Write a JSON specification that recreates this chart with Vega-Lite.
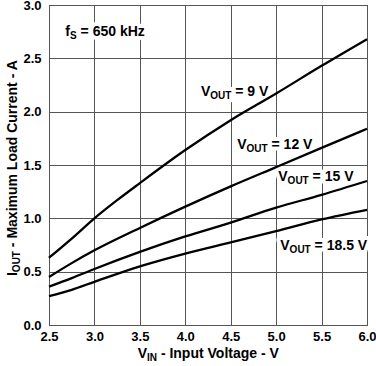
{
  "$schema": "https://vega.github.io/schema/vega-lite/v6.json",
  "width": 318,
  "height": 320,
  "autosize": {"type": "none"},
  "padding": {"left": 49, "top": 5, "right": 9, "bottom": 41},
  "background": "white",
  "config": {
    "view": {"stroke": "#000", "strokeWidth": 1},
    "font": "Liberation Sans",
    "axis": {
      "grid": true, "gridColor": "#555", "gridWidth": 1, "gridOpacity": 1,
      "domain": false, "ticks": false,
      "labelFont": "Liberation Sans", "labelFontSize": 13, "labelFontWeight": "bold", "labelColor": "#000",
      "labelOverlap": false, "labelBound": false, "labelFlush": false,
      "title": null
    },
    "axisX": {"values": [2.5, 3, 3.5, 4, 4.5, 5, 5.5, 6], "format": ".1f", "labelPadding": 5},
    "axisY": {"values": [0, 0.5, 1, 1.5, 2, 2.5, 3], "format": ".1f", "labelPadding": 8},
    "text": {"font": "Liberation Sans", "fontWeight": "bold", "color": "#000"}
  },
  "datasets": {
    "curves": [
      {"series": "9 V", "vin": 2.5, "iout": 0.63},
      {"series": "9 V", "vin": 2.75, "iout": 0.81},
      {"series": "9 V", "vin": 3.0, "iout": 1.0},
      {"series": "9 V", "vin": 3.25, "iout": 1.17},
      {"series": "9 V", "vin": 3.5, "iout": 1.33},
      {"series": "9 V", "vin": 4.0, "iout": 1.64},
      {"series": "9 V", "vin": 4.5, "iout": 1.92},
      {"series": "9 V", "vin": 5.0, "iout": 2.17},
      {"series": "9 V", "vin": 5.5, "iout": 2.43},
      {"series": "9 V", "vin": 6.0, "iout": 2.68},
      {"series": "12 V", "vin": 2.5, "iout": 0.45},
      {"series": "12 V", "vin": 2.75, "iout": 0.58},
      {"series": "12 V", "vin": 3.0, "iout": 0.7},
      {"series": "12 V", "vin": 3.5, "iout": 0.91},
      {"series": "12 V", "vin": 4.0, "iout": 1.11},
      {"series": "12 V", "vin": 4.5, "iout": 1.3},
      {"series": "12 V", "vin": 5.0, "iout": 1.48},
      {"series": "12 V", "vin": 5.5, "iout": 1.66},
      {"series": "12 V", "vin": 6.0, "iout": 1.84},
      {"series": "15 V", "vin": 2.5, "iout": 0.36},
      {"series": "15 V", "vin": 2.75, "iout": 0.44},
      {"series": "15 V", "vin": 3.0, "iout": 0.525},
      {"series": "15 V", "vin": 3.5, "iout": 0.685},
      {"series": "15 V", "vin": 4.0, "iout": 0.83},
      {"series": "15 V", "vin": 4.5, "iout": 0.96},
      {"series": "15 V", "vin": 5.0, "iout": 1.1},
      {"series": "15 V", "vin": 5.5, "iout": 1.22},
      {"series": "15 V", "vin": 6.0, "iout": 1.35},
      {"series": "18.5 V", "vin": 2.5, "iout": 0.27},
      {"series": "18.5 V", "vin": 2.75, "iout": 0.33},
      {"series": "18.5 V", "vin": 3.0, "iout": 0.405},
      {"series": "18.5 V", "vin": 3.5, "iout": 0.55},
      {"series": "18.5 V", "vin": 4.0, "iout": 0.67},
      {"series": "18.5 V", "vin": 4.5, "iout": 0.775},
      {"series": "18.5 V", "vin": 5.0, "iout": 0.88},
      {"series": "18.5 V", "vin": 5.5, "iout": 0.99},
      {"series": "18.5 V", "vin": 6.0, "iout": 1.08}
    ],
    "labels": [
      {"vin": 4.173, "iout": 2.147, "main": "V", "sub": "OUT", "rest": "= 9 V"},
      {"vin": 4.572, "iout": 1.65, "main": "V", "sub": "OUT", "rest": "= 12 V"},
      {"vin": 5.024, "iout": 1.353, "main": "V", "sub": "OUT", "rest": "= 15 V"},
      {"vin": 5.046, "iout": 0.706, "main": "V", "sub": "OUT", "rest": "= 18.5 V"},
      {"vin": 2.679, "iout": 2.709, "main": "f", "sub": "S", "rest": "= 650 kHz"}
    ]
  },
  "layer": [
    {
      "data": {"name": "labels"},
      "mark": {"type": "text", "align": "left", "baseline": "alphabetic", "fontSize": 14, "fill": "white", "stroke": "white", "strokeWidth": 8, "strokeJoin": "round"},
      "encoding": {
        "x": {"field": "vin", "type": "quantitative", "scale": {"domain": [2.5, 6], "nice": false, "zero": false}},
        "y": {"field": "iout", "type": "quantitative", "scale": {"domain": [0, 3], "nice": false}},
        "text": {"field": "main"}
      }
    },
    {
      "data": {"name": "labels"},
      "transform": [{"filter": "datum.main === 'V'"}],
      "mark": {"type": "text", "align": "left", "baseline": "alphabetic", "fontSize": 10, "dx": 9.3, "dy": 3, "fill": "white", "stroke": "white", "strokeWidth": 8, "strokeJoin": "round"},
      "encoding": {
        "x": {"field": "vin", "type": "quantitative", "scale": {"domain": [2.5, 6], "nice": false, "zero": false}},
        "y": {"field": "iout", "type": "quantitative", "scale": {"domain": [0, 3], "nice": false}},
        "text": {"field": "sub"}
      }
    },
    {
      "data": {"name": "labels"},
      "transform": [{"filter": "datum.main === 'V'"}],
      "mark": {"type": "text", "align": "left", "baseline": "alphabetic", "fontSize": 14, "dx": 34.3, "fill": "white", "stroke": "white", "strokeWidth": 8, "strokeJoin": "round"},
      "encoding": {
        "x": {"field": "vin", "type": "quantitative", "scale": {"domain": [2.5, 6], "nice": false, "zero": false}},
        "y": {"field": "iout", "type": "quantitative", "scale": {"domain": [0, 3], "nice": false}},
        "text": {"field": "rest"}
      }
    },
    {
      "data": {"name": "labels"},
      "transform": [{"filter": "datum.main === 'f'"}],
      "mark": {"type": "text", "align": "left", "baseline": "alphabetic", "fontSize": 10, "dx": 4.7, "dy": 3, "fill": "white", "stroke": "white", "strokeWidth": 8, "strokeJoin": "round"},
      "encoding": {
        "x": {"field": "vin", "type": "quantitative", "scale": {"domain": [2.5, 6], "nice": false, "zero": false}},
        "y": {"field": "iout", "type": "quantitative", "scale": {"domain": [0, 3], "nice": false}},
        "text": {"field": "sub"}
      }
    },
    {
      "data": {"name": "labels"},
      "transform": [{"filter": "datum.main === 'f'"}],
      "mark": {"type": "text", "align": "left", "baseline": "alphabetic", "fontSize": 14, "dx": 15.3, "fill": "white", "stroke": "white", "strokeWidth": 8, "strokeJoin": "round"},
      "encoding": {
        "x": {"field": "vin", "type": "quantitative", "scale": {"domain": [2.5, 6], "nice": false, "zero": false}},
        "y": {"field": "iout", "type": "quantitative", "scale": {"domain": [0, 3], "nice": false}},
        "text": {"field": "rest"}
      }
    },
    {
      "data": {"name": "curves"},
      "mark": {"type": "line", "color": "#000", "strokeWidth": 2.3, "interpolate": "monotone"},
      "encoding": {
        "x": {"field": "vin", "type": "quantitative", "scale": {"domain": [2.5, 6], "nice": false, "zero": false}},
        "y": {"field": "iout", "type": "quantitative", "scale": {"domain": [0, 3], "nice": false}},
        "detail": {"field": "series"}
      }
    },
    {
      "data": {"name": "labels"},
      "mark": {"type": "text", "align": "left", "baseline": "alphabetic", "fontSize": 14},
      "encoding": {
        "x": {"field": "vin", "type": "quantitative", "scale": {"domain": [2.5, 6], "nice": false, "zero": false}},
        "y": {"field": "iout", "type": "quantitative", "scale": {"domain": [0, 3], "nice": false}},
        "text": {"field": "main"}
      }
    },
    {
      "data": {"name": "labels"},
      "transform": [{"filter": "datum.main === 'V'"}],
      "mark": {"type": "text", "align": "left", "baseline": "alphabetic", "fontSize": 10, "dx": 9.3, "dy": 3},
      "encoding": {
        "x": {"field": "vin", "type": "quantitative", "scale": {"domain": [2.5, 6], "nice": false, "zero": false}},
        "y": {"field": "iout", "type": "quantitative", "scale": {"domain": [0, 3], "nice": false}},
        "text": {"field": "sub"}
      }
    },
    {
      "data": {"name": "labels"},
      "transform": [{"filter": "datum.main === 'V'"}],
      "mark": {"type": "text", "align": "left", "baseline": "alphabetic", "fontSize": 14, "dx": 34.3},
      "encoding": {
        "x": {"field": "vin", "type": "quantitative", "scale": {"domain": [2.5, 6], "nice": false, "zero": false}},
        "y": {"field": "iout", "type": "quantitative", "scale": {"domain": [0, 3], "nice": false}},
        "text": {"field": "rest"}
      }
    },
    {
      "data": {"name": "labels"},
      "transform": [{"filter": "datum.main === 'f'"}],
      "mark": {"type": "text", "align": "left", "baseline": "alphabetic", "fontSize": 10, "dx": 4.7, "dy": 3},
      "encoding": {
        "x": {"field": "vin", "type": "quantitative", "scale": {"domain": [2.5, 6], "nice": false, "zero": false}},
        "y": {"field": "iout", "type": "quantitative", "scale": {"domain": [0, 3], "nice": false}},
        "text": {"field": "sub"}
      }
    },
    {
      "data": {"name": "labels"},
      "transform": [{"filter": "datum.main === 'f'"}],
      "mark": {"type": "text", "align": "left", "baseline": "alphabetic", "fontSize": 14, "dx": 15.3},
      "encoding": {
        "x": {"field": "vin", "type": "quantitative", "scale": {"domain": [2.5, 6], "nice": false, "zero": false}},
        "y": {"field": "iout", "type": "quantitative", "scale": {"domain": [0, 3], "nice": false}},
        "text": {"field": "rest"}
      }
    },
    {
      "data": {"values": [{}]},
      "mark": {"type": "text", "align": "left", "baseline": "alphabetic", "fontSize": 14, "text": "V"},
      "encoding": {
        "x": {"datum": 3.476, "type": "quantitative", "scale": {"domain": [2.5, 6], "nice": false, "zero": false}},
        "y": {"datum": -0.31, "type": "quantitative", "scale": {"domain": [0, 3], "nice": false}}
      }
    },
    {
      "data": {"values": [{}]},
      "mark": {"type": "text", "align": "left", "baseline": "alphabetic", "fontSize": 10, "dx": 9.3, "dy": 3, "text": "IN"},
      "encoding": {
        "x": {"datum": 3.476, "type": "quantitative", "scale": {"domain": [2.5, 6], "nice": false, "zero": false}},
        "y": {"datum": -0.31, "type": "quantitative", "scale": {"domain": [0, 3], "nice": false}}
      }
    },
    {
      "data": {"values": [{}]},
      "mark": {"type": "text", "align": "left", "baseline": "alphabetic", "fontSize": 14, "dx": 23.2, "text": "- Input Voltage - V"},
      "encoding": {
        "x": {"datum": 3.476, "type": "quantitative", "scale": {"domain": [2.5, 6], "nice": false, "zero": false}},
        "y": {"datum": -0.31, "type": "quantitative", "scale": {"domain": [0, 3], "nice": false}}
      }
    },
    {
      "data": {"values": [{}]},
      "mark": {"type": "text", "align": "left", "baseline": "alphabetic", "fontSize": 14, "angle": 270, "text": "I"},
      "encoding": {
        "x": {"datum": 2.153, "type": "quantitative", "scale": {"domain": [2.5, 6], "nice": false, "zero": false}},
        "y": {"datum": 0.459, "type": "quantitative", "scale": {"domain": [0, 3], "nice": false}}
      }
    },
    {
      "data": {"values": [{}]},
      "mark": {"type": "text", "align": "left", "baseline": "alphabetic", "fontSize": 10, "angle": 270, "dx": 3.9, "dy": 3, "text": "OUT"},
      "encoding": {
        "x": {"datum": 2.153, "type": "quantitative", "scale": {"domain": [2.5, 6], "nice": false, "zero": false}},
        "y": {"datum": 0.459, "type": "quantitative", "scale": {"domain": [0, 3], "nice": false}}
      }
    },
    {
      "data": {"values": [{}]},
      "mark": {"type": "text", "align": "left", "baseline": "alphabetic", "fontSize": 14, "angle": 270, "dx": 28.9, "text": "- Maximum Load Current - A"},
      "encoding": {
        "x": {"datum": 2.153, "type": "quantitative", "scale": {"domain": [2.5, 6], "nice": false, "zero": false}},
        "y": {"datum": 0.459, "type": "quantitative", "scale": {"domain": [0, 3], "nice": false}}
      }
    }
  ]
}
